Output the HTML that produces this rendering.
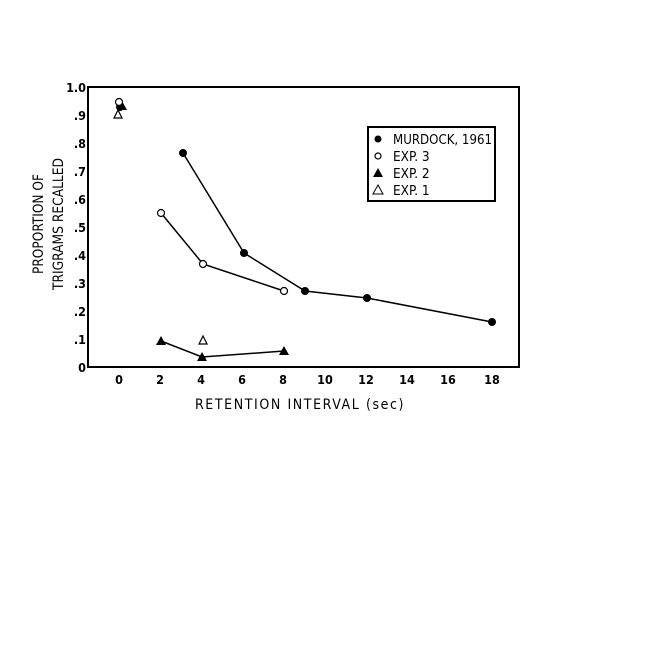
<!DOCTYPE html><html><head><style>body{margin:0;background:#fff}svg text{font-family:"DejaVu Sans Condensed","Liberation Sans",sans-serif;fill:#000}</style></head><body>
<svg width="648" height="648" viewBox="0 0 648 648" xmlns="http://www.w3.org/2000/svg">
<rect x="88" y="87" width="431" height="280" fill="none" stroke="#000" stroke-width="2"/>
<g font-size="12.5" font-weight="bold" text-anchor="end">
<text x="86" y="92">1.0</text><text x="86" y="120">.9</text><text x="86" y="148">.8</text><text x="86" y="176">.7</text><text x="86" y="204">.6</text><text x="86" y="232">.5</text><text x="86" y="260">.4</text><text x="86" y="288">.3</text><text x="86" y="316">.2</text><text x="86" y="344">.1</text><text x="86" y="372">0</text>
</g>
<g font-size="12.5" font-weight="bold" text-anchor="middle">
<text x="119" y="384">0</text><text x="160" y="384">2</text><text x="201" y="384">4</text><text x="242" y="384">6</text><text x="283" y="384">8</text><text x="325" y="384">10</text><text x="366" y="384">12</text><text x="407" y="384">14</text><text x="448" y="384">16</text><text x="492" y="384">18</text>
</g>
<text x="300" y="409" font-size="14" text-anchor="middle" letter-spacing="1.6">RETENTION INTERVAL (sec)</text>
<g transform="translate(0,224) rotate(-90)" font-size="14" text-anchor="middle" textLength="132"><text x="0" y="43" textLength="100" lengthAdjust="spacingAndGlyphs">PROPORTION OF</text><text x="0" y="63" textLength="132" lengthAdjust="spacingAndGlyphs">TRIGRAMS RECALLED</text></g>
<g stroke="#000" stroke-width="1.5" fill="none">
<polyline points="183,153 244,253 305,291 367,298 492,322"/>
<polyline points="161,213 203,264 284,291"/>
<polyline points="161,341 202,357 284,351"/>
</g>
<g fill="#000">
<circle cx="183" cy="153" r="4"/><circle cx="244" cy="253" r="4"/><circle cx="305" cy="291" r="4"/><circle cx="367" cy="298" r="4"/><circle cx="492" cy="322" r="4"/><circle cx="120" cy="107" r="4"/>
<polygon points="161,336 156,345 166,345"/><polygon points="202,352 197,361 207,361"/><polygon points="284,346 279,355 289,355"/><polygon points="122,101 117,110 127,110"/>
</g>
<g fill="#fff" stroke="#000" stroke-width="1.2">
<circle cx="161" cy="213" r="3.5"/><circle cx="203" cy="264" r="3.5"/><circle cx="284" cy="291" r="3.5"/><circle cx="119" cy="102" r="3.5"/>
<polygon points="118,110 114,118 122,118"/><polygon points="203,336 199,344 207,344"/>
</g>
<rect x="368" y="127" width="127" height="74" fill="#fff" stroke="#000" stroke-width="2"/>
<circle cx="378" cy="139" r="3.5" fill="#000"/>
<circle cx="378" cy="156" r="3" fill="#fff" stroke="#000" stroke-width="1.2"/>
<polygon points="378,168 373,177 383,177" fill="#000"/>
<polygon points="378,185 373,194 383,194" fill="#fff" stroke="#000"/>
<g font-size="13.5"><text x="393" y="144" textLength="99" lengthAdjust="spacingAndGlyphs">MURDOCK, 1961</text><text x="393" y="161">EXP. 3</text><text x="393" y="178">EXP. 2</text><text x="393" y="195">EXP. 1</text></g>
</svg></body></html>
